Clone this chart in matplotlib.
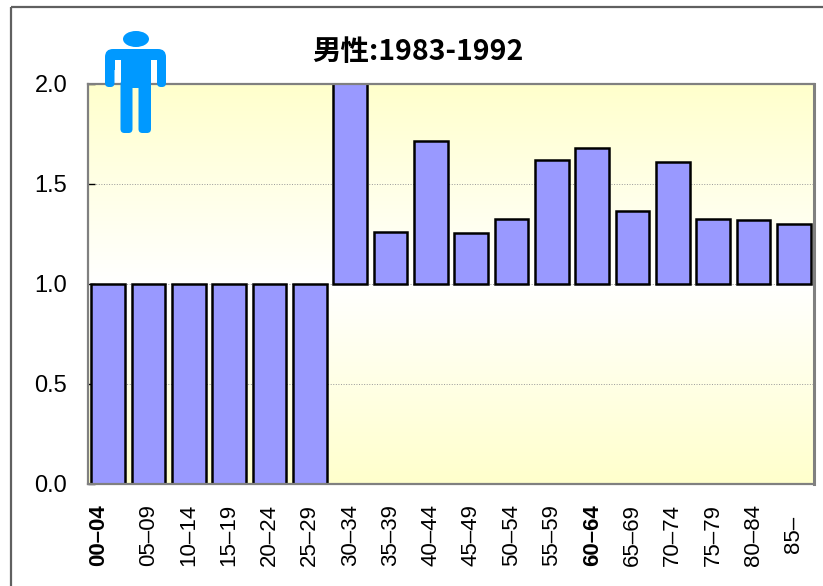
import numpy as np
from matplotlib import pyplot as plt
from matplotlib.colors import LinearSegmentedColormap
from matplotlib.patches import Ellipse, FancyBboxPatch, Rectangle
from matplotlib.transforms import Affine2D, ScaledTranslation

plt.rcParams['font.family'] = ['Liberation Sans', 'DejaVu Sans']

# age groups and ratio per group (bars grow out of the 1.0 line)
ages = ['00–04', '05–09', '10–14', '15–19', '20–24', '25–29', '30–34', '35–39', '40–44',
        '45–49', '50–54', '55–59', '60–64', '65–69', '70–74', '75–79', '80–84', '85–']
ratios = [0.0, 0.0, 0.0, 0.0, 0.0, 0.0, 2.6, 1.26, 1.715,
          1.255, 1.325, 1.62, 1.68, 1.365, 1.61, 1.325, 1.32, 1.30]
base = 1.0
y_ticks = [0.0, 0.5, 1.0, 1.5, 2.0]
title = '男性:1983-1992'

W, H = 823, 586
fig = plt.figure(figsize=(W / 100, H / 100), dpi=100)
ax = fig.add_axes([88 / W, 1 - 484 / H, (814 - 88) / W, 400 / H])

# outer frame runs off the right and bottom of the picture
px = Affine2D().scale(1, -1).translate(0, H)
fig.add_artist(Rectangle((10.5, 6.5), W + 20, H + 20, fill=False, ec='#606060', lw=1.6, transform=px))

# background: pale yellow to white and back
cmap = LinearSegmentedColormap.from_list('bg', ['#FFFFCC', '#FFFFFF', '#FFFFCC'])
ax.imshow(np.linspace(0, 1, 256).reshape(-1, 1), cmap=cmap, aspect='auto', extent=(0, 1, 0, 1),
          transform=ax.transAxes, zorder=0)

xs = np.arange(len(ages))
heights = [r - base for r in ratios]
ax.bar(xs, heights, bottom=base, width=0.84, color='#9999FF', edgecolor='black', linewidth=1.8, zorder=3)

ax.set_xlim(-0.5, len(ages) - 0.5)
ax.set_ylim(0, 2)
ax.set_yticks(y_ticks)
ax.set_yticklabels(['%.1f' % v for v in y_ticks], fontsize=17)
ax.tick_params(axis='y', direction='in', length=5, width=1, color='black', pad=15)
ax.yaxis.grid(True, color='#999999', lw=0.7, ls=':', zorder=1)
ax.set_axisbelow(False)

ax.set_xticks(xs)
ax.set_xticklabels(ages, rotation=90, ha='center', va='center', fontsize=16)
ax.tick_params(axis='x', length=0, pad=36.5)

# the first and the 60-64 label look doubled in the original
labels = ax.get_xticklabels()
labels[0].set_fontweight('bold')
labels[12].set_fontweight('bold')
labels[0].set_transform(labels[0].get_transform() + ScaledTranslation(-10 / 100, 0, fig.dpi_scale_trans))

for s in ax.spines.values():
    s.set_color('#808080')
    s.set_linewidth(1.6)
    s.set_zorder(4)
ax.spines['right'].set_linewidth(2.2)

fig.text(418 / W, 1 - 52 / H, title, ha='center', va='center', fontsize=20.5, fontweight='bold',
         family=['Noto Sans CJK JP', 'DejaVu Sans'])

# man icon
blue = '#0099FF'
def rounded(x0, y0, x1, y1, r=4):
    fig.add_artist(FancyBboxPatch((x0 + r, y0 + r), x1 - x0 - 2 * r, y1 - y0 - 2 * r,
                                  boxstyle='round,pad=%d,rounding_size=%d' % (r, r),
                                  fc=blue, ec='none', transform=px, zorder=6))

fig.add_artist(Ellipse((136, 39), 26, 16, fc=blue, ec='none', transform=px, zorder=6))
rounded(105, 49, 166, 70, 8)
rounded(105, 55, 114.5, 87, 4)
rounded(157, 55, 166, 87, 4)
fig.add_artist(Rectangle((120.5, 52), 30.5, 36, fc=blue, ec='none', transform=px, zorder=6))
rounded(120.5, 80, 132.5, 133, 4)
rounded(138.5, 80, 151, 133, 4)
fig.add_artist(Rectangle((114.5, 60), 6, 12, fc='white', ec='none', transform=px, zorder=7))
fig.add_artist(Rectangle((151, 60), 6, 12, fc='white', ec='none', transform=px, zorder=7))

fig.savefig('out.png', dpi=100)
